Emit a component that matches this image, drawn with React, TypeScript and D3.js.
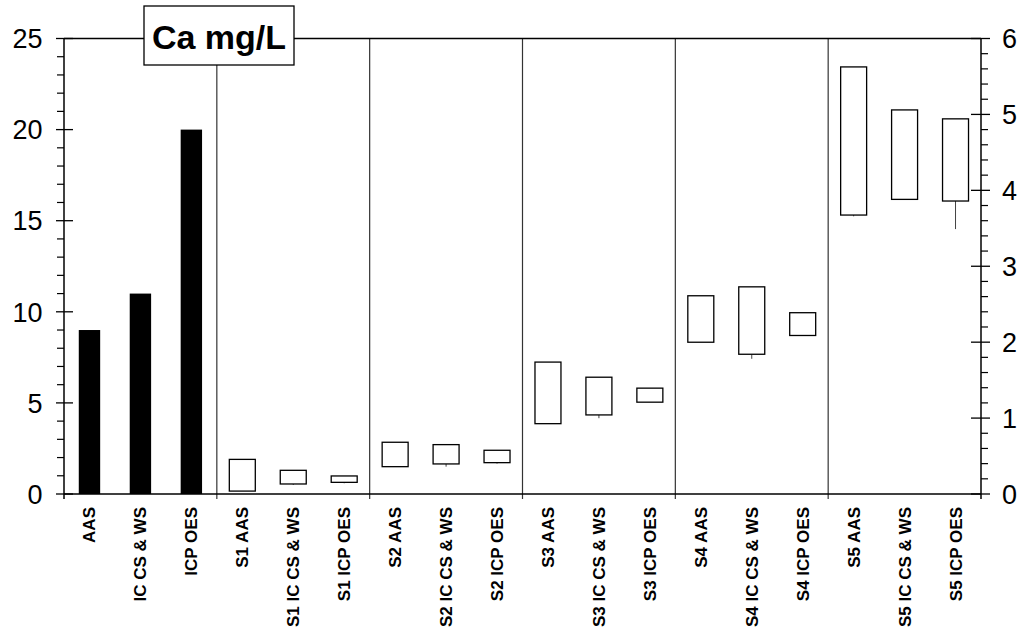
import React from "react";
import * as d3 from "d3";

const categories = [
  "AAS", "IC CS & WS", "ICP OES",
  "S1 AAS", "S1 IC CS & WS", "S1 ICP OES",
  "S2 AAS", "S2 IC CS & WS", "S2 ICP OES",
  "S3 AAS", "S3 IC CS & WS", "S3 ICP OES",
  "S4 AAS", "S4 IC CS & WS", "S4 ICP OES",
  "S5 AAS", "S5 IC CS & WS", "S5 ICP OES",
];
const barCategories = ["AAS", "IC CS & WS", "ICP OES"];
const barValues = [9, 11, 20];

const boxCategories = categories.slice(3);
const boxLow = [0.16, 0.55, 0.64, 1.5, 1.65, 1.72, 3.86, 4.34, 5.04, 8.33, 7.67, 8.7, 15.31, 16.17, 16.08];
const boxHigh = [1.9, 1.3, 0.99, 2.84, 2.71, 2.4, 7.24, 6.41, 5.81, 10.88, 11.37, 9.95, 23.44, 21.08, 20.59];
const whiskerLow = [0.16, 0.5, 0.59, 1.5, 1.5, 1.67, 3.86, 4.16, 5.04, 8.33, 7.42, 8.7, 15.24, 16.17, 14.54];
const whiskerHigh = [1.9, 1.3, 0.99, 2.84, 2.71, 2.4, 7.24, 6.41, 5.81, 10.88, 11.37, 9.95, 23.44, 21.08, 20.59];

const leftTicks = [0, 5, 10, 15, 20, 25];
const rightTicks = [0, 1, 2, 3, 4, 5, 6];
const title = "Ca mg/L";

export default function App() {
  const W = 1025, H = 637;
  const x0 = 64, x1 = 981, yTop = 38.5, yBot = 494;
  const x = d3.scaleBand<string>().domain(categories).range([x0, x1]).paddingInner(0).paddingOuter(0);
  const y = d3.scaleLinear().domain([0, 25]).range([yBot, yTop]);
  const yR = d3.scaleLinear().domain([0, 6]).range([yBot, yTop]);
  const bw = x.bandwidth();
  const font = "'Liberation Sans', Arial, sans-serif";
  const leftMinor = d3.range(0, 25.001, 1).filter((v) => v % 5 !== 0);
  const rightMinor = d3.range(0, 6.001, 0.2).filter((v) => Math.abs(v - Math.round(v)) > 1e-6);
  const groupEdges = d3.range(3, categories.length, 3).map((i) => x(categories[i]) as number);

  return (
    <svg width={W} height={H} style={{ position: "absolute", left: 0, top: 0, background: "#fff" }}>
      {/* group separators */}
      {groupEdges.map((gx, i) => (
        <line key={"sep" + i} x1={gx} x2={gx} y1={yTop} y2={yBot + 5} stroke="#333" strokeWidth={1.2} />
      ))}
      {/* bars */}
      {barCategories.map((c, i) => {
        const cx = (x(c) as number) + bw / 2;
        const w = bw * 0.42;
        return <rect key={"b" + i} x={cx - w / 2} y={y(barValues[i])} width={w} height={y(0) - y(barValues[i])} fill="#000" />;
      })}
      {/* boxes */}
      {boxCategories.map((c, i) => {
        const cx = (x(c) as number) + bw / 2;
        const w = bw * 0.51;
        return (
          <g key={"bx" + i}>
            <line x1={cx} x2={cx} y1={y(whiskerLow[i])} y2={y(boxLow[i])} stroke="#444" strokeWidth={1} />
            <line x1={cx} x2={cx} y1={y(whiskerHigh[i])} y2={y(boxHigh[i])} stroke="#444" strokeWidth={1} />
            <rect x={cx - w / 2} y={y(boxHigh[i])} width={w} height={y(boxLow[i]) - y(boxHigh[i])} fill="#fff" stroke="#000" strokeWidth={1.3} />
          </g>
        );
      })}
      {/* frame */}
      <line x1={x0} x2={x1} y1={yTop} y2={yTop} stroke="#000" strokeWidth={1.5} />
      <line x1={x0} x2={x1} y1={yBot} y2={yBot} stroke="#000" strokeWidth={1.5} />
      <line x1={x0} x2={x0} y1={yTop} y2={yBot + 5} stroke="#000" strokeWidth={1.5} />
      <line x1={x1} x2={x1} y1={yTop} y2={yBot + 5} stroke="#000" strokeWidth={1.5} />
      {/* left axis ticks */}
      {leftTicks.map((t) => (
        <g key={"lt" + t}>
          <line x1={x0 - 8} x2={x0 + 9} y1={y(t)} y2={y(t)} stroke="#000" strokeWidth={1.3} />
          <text x={42.5} y={y(t)} dy="0.36em" textAnchor="end" fontFamily={font} fontSize={27} fill="#000">{t}</text>
        </g>
      ))}
      {leftMinor.map((t) => (
        <line key={"lm" + t} x1={x0 - 7} x2={x0} y1={y(t)} y2={y(t)} stroke="#000" strokeWidth={1.2} />
      ))}
      {/* right axis ticks */}
      {rightTicks.map((t) => (
        <g key={"rt" + t}>
          <line x1={x1 - 10} x2={x1 + 9} y1={yR(t)} y2={yR(t)} stroke="#000" strokeWidth={1.3} />
          <text x={1002} y={yR(t)} dy="0.36em" textAnchor="start" fontFamily={font} fontSize={27} fill="#000">{t}</text>
        </g>
      ))}
      {rightMinor.map((t, i) => (
        <line key={"rm" + i} x1={x1} x2={x1 + 7} y1={yR(t)} y2={yR(t)} stroke="#000" strokeWidth={1.2} />
      ))}
      {/* category labels */}
      {categories.map((c) => {
        const cx = (x(c) as number) + bw / 2;
        return (
          <text key={"cl" + c} transform={`translate(${cx + 6},507) rotate(-90)`} textAnchor="end" fontFamily={font} fontWeight="bold" fontSize={17} fill="#000">{c}</text>
        );
      })}
      {/* title box */}
      <rect x={144} y={6} width={150} height={59} fill="#fff" stroke="#000" strokeWidth={1.3} />
      <text x={219} y={49} textAnchor="middle" fontFamily={font} fontWeight="bold" fontSize={34} fill="#000">{title}</text>
    </svg>
  );
}
